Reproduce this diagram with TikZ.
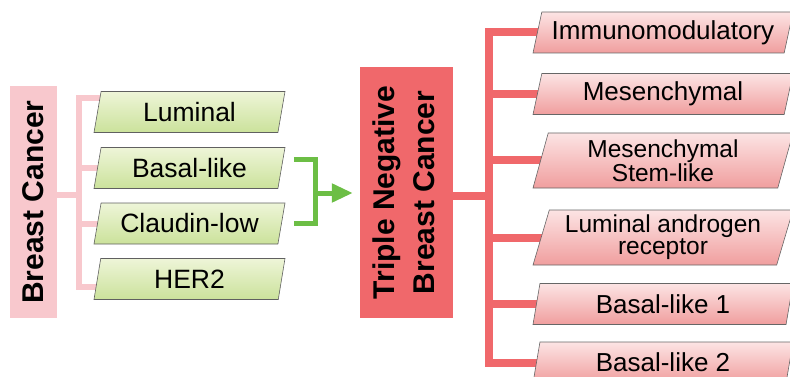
\documentclass[tikz,border=0pt]{standalone}
\usepackage{fontspec}
\setmainfont{Liberation Sans}
\usetikzlibrary{shapes.geometric,arrows.meta,backgrounds}

\definecolor{bcpink}{RGB}{248,200,205}
\definecolor{tnred}{RGB}{240,104,107}
\definecolor{grline}{RGB}{108,190,69}
\definecolor{grtop}{RGB}{238,245,216}
\definecolor{grbot}{RGB}{203,226,155}
\definecolor{rdtop}{RGB}{252,228,228}
\definecolor{rdbot}{RGB}{240,158,158}

\begin{document}
\begin{tikzpicture}[x=1pt,y=-1pt,
    para/.style={trapezium,trapezium left angle=70,trapezium right angle=110,
      trapezium stretches body,inner sep=0pt,line width=.6pt},
    grbox/.style={para,draw=gray!75!black,top color=grtop,bottom color=grbot,
      minimum width=191pt,minimum height=41pt,font=\fontsize{26.5}{30}\selectfont},
    rdbox/.style={para,draw=black!60,top color=rdtop,bottom color=rdbot,
      minimum width=260pt,minimum height=41pt,font=\fontsize{26}{30}\selectfont},
    rdbox2/.style={rdbox,minimum height=55pt,align=center,font=\fontsize{24.5}{22}\selectfont},
    bigbox/.style={inner sep=0pt,font=\fontsize{30}{40}\selectfont\bfseries}]
  \useasboundingbox (0,0) rectangle (790,377);

  % the two main groups
  \node[bigbox,fill=bcpink,minimum width=47pt,minimum height=232pt] (bc) at (33.5,202)
    {\rotatebox{90}{Breast Cancer}};
  \node[bigbox,fill=tnred,minimum width=93pt,minimum height=251pt] (tnbc) at (406.5,192.5)
    {\rotatebox{90}{\begin{tabular}{@{}c@{}}Triple Negative\\Breast Cancer\end{tabular}}};

  % intrinsic subtypes
  \node[grbox] (lum) at (189.5,112) {Luminal};
  \node[grbox] (bas) at (189.5,168) {Basal-like};
  \node[grbox] (cla) at (189.5,223.5) {Claudin-low};
  \node[grbox] (her) at (189.5,279) {HER2};

  % TNBC subtypes
  \node[rdbox] (imm) at (663,32.5) {Immunomodulatory};
  \node[rdbox] (mes) at (663,94) {Mesenchymal};
  \node[rdbox2] (msl) at (663,160.5) {Mesenchymal\\Stem-like};
  \node[rdbox2] (lar) at (663,237.5) {Luminal androgen\\receptor};
  \node[rdbox] (bl1) at (663,304) {Basal-like 1};
  \node[rdbox] (bl2) at (663,362.5) {Basal-like 2};

  \coordinate (lj) at (79,195);
  \coordinate (rj) at (489,196);
  \coordinate (gj) at (315,193);

  \begin{scope}[on background layer,line join=miter]
    \draw[bcpink,line width=6pt] (bc.east |- lj) -- (lj);
    \foreach \n/\s in {lum/14,bas/0,cla/0,her/-8}
      \draw[bcpink,line width=6pt] (lj) |- ([yshift=\s pt]\n.center);
    \draw[tnred,line width=8pt] (tnbc.east |- rj) -- (rj);
    \foreach \n in {imm,mes,msl,lar,bl1,bl2}
      \draw[tnred,line width=8pt] (rj) |- (\n.center);
  \end{scope}

  % basal-like and claudin-low lead to TNBC
  \draw[grline,line width=5pt,line join=miter]
    ([xshift=12pt,yshift=8pt]bas.east) -| (gj) |- ([xshift=12pt]cla.east);
  \draw[grline,line width=5pt,-{Triangle[length=21pt,width=18pt]},shorten >=7pt]
    (gj) -- (gj -| tnbc.west);
\end{tikzpicture}
\end{document}
